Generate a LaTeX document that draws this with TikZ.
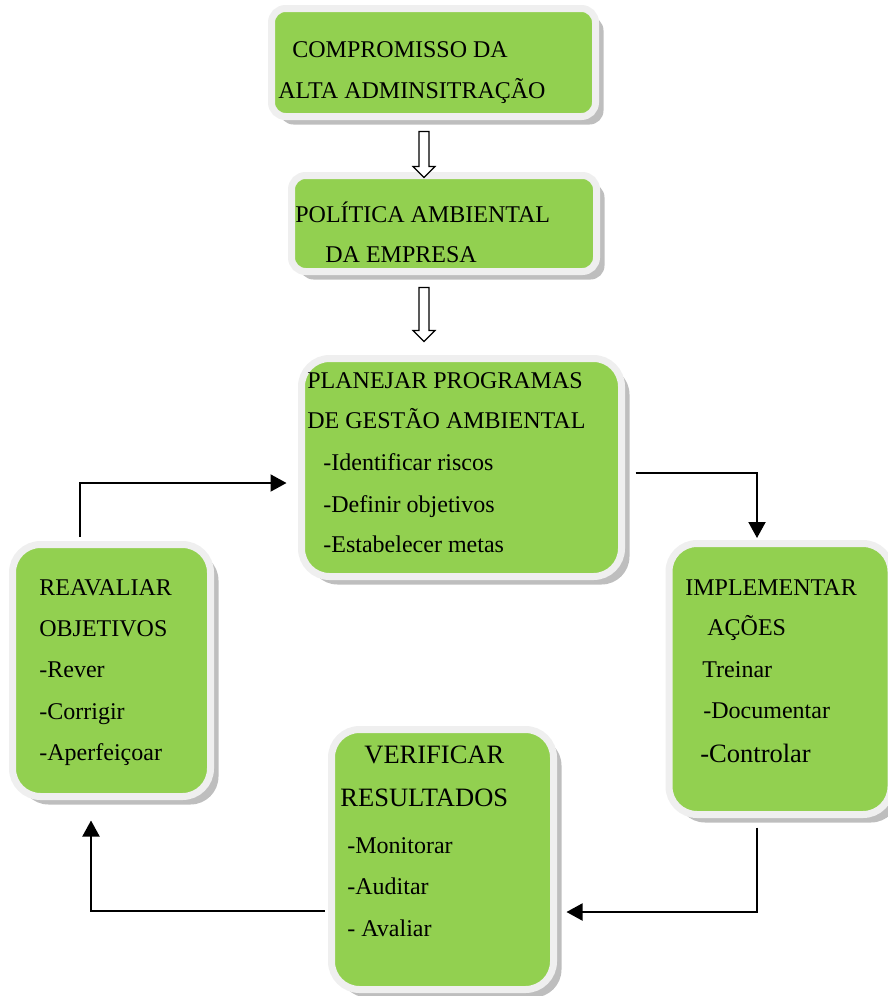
\documentclass[tikz,border=0pt]{standalone}
\usepackage{fontspec}
\setmainfont{Liberation Serif}
\usetikzlibrary{shadows,arrows.meta,calc}

\definecolor{boxgreen}{HTML}{92D050}
\definecolor{boxrim}{HTML}{EFEFEF}
\definecolor{boxshade}{HTML}{BEBEBE}

\tikzset{
  stage/.style={fill=boxgreen, draw=boxrim, line width=3.5pt, rounded corners=14pt, inner sep=0pt,
    drop shadow={shadow xshift=4pt, shadow yshift=-4pt, fill=boxshade, opacity=1}},
  stagesmall/.style={stage, rounded corners=7pt},
  txt/.style={anchor=base west, inner sep=0pt, font=\fontsize{12}{14}\selectfont},
  bigtxt/.style={txt, font=\fontsize{13.25}{16}\selectfont},
  flow/.style={line width=1pt, -{Triangle[length=8pt,width=8.5pt]}},
  hollow/.style={draw=black, fill=white, line width=0.6pt, line join=miter}
}

\begin{document}
\begin{tikzpicture}[x=0.5pt,y=-0.5pt]
 \useasboundingbox (0,0) rectangle (888,996);

% Compromisso
 \node[stagesmall, minimum width=162pt, minimum height=54pt] (comp) at (433.5,62.5) {};
 \node[txt] (comp-1) at (292,57) {COMPROMISSO DA};
 \node[txt] (comp-2) at (278,98) {ALTA ADMINSITRAÇÃO};

% Politica
 \node[stagesmall, minimum width=152.5pt, minimum height=48pt] (pol) at (444,223.5) {};
 \node[txt] (pol-1) at (295,222) {POLÍTICA AMBIENTAL};
 \node[txt] (pol-2) at (325,262) {DA EMPRESA};

% Planejar
 \node[stage, minimum width=160pt, minimum height=109pt] (plan) at (461.5,467.5) {};
 \node[txt] (plan-1) at (307,388) {PLANEJAR PROGRAMAS};
 \node[txt] (plan-2) at (307,428) {DE GESTÃO AMBIENTAL};
 \node[txt] (plan-3) at (323,470) {-Identificar riscos};
 \node[txt] (plan-4) at (323,512) {-Definir objetivos};
 \node[txt] (plan-5) at (323,552) {-Estabelecer metas};

% Implementar
 \node[stage, minimum width=111pt, minimum height=135.5pt] (impl) at (780,679) {};
 \node[txt] (impl-1) at (685,595) {IMPLEMENTAR};
 \node[txt] (impl-2) at (707,635) {AÇÕES};
 \node[txt] (impl-3) at (702,677) {Treinar};
 \node[txt] (impl-4) at (703,718) {-Documentar};
 \node[bigtxt] (impl-5) at (700,762) {-Controlar};

% Verificar
 \node[stage, minimum width=111pt, minimum height=130pt] (verif) at (442.5,859.5) {};
 \node[bigtxt] (verif-1) at (364,763) {VERIFICAR};
 \node[bigtxt] (verif-2) at (340,806) {RESULTADOS};
 \node[txt] (verif-3) at (347,853) {-Monitorar};
 \node[txt] (verif-4) at (347,894) {-Auditar};
 \node[txt] (verif-5) at (347,936) {- Avaliar};

% Reavaliar
 \node[stage, minimum width=99pt, minimum height=126pt] (reav) at (111.5,670.5) {};
 \node[txt] (reav-1) at (39,595) {REAVALIAR};
 \node[txt] (reav-2) at (39,636) {OBJETIVOS};
 \node[txt] (reav-3) at (39,677) {-Rever};
 \node[txt] (reav-4) at (39,719) {-Corrigir};
 \node[txt] (reav-5) at (39,760) {-Aperfeiçoar};

% Block arrows
 \draw[hollow] ($(comp.south)+(-14.5,11.5)$) -- ++(0,35) -- ++(-6,0) -- ++(11,11)
   -- ++(11,-11) -- ++(-6,0) -- ++(0,-35) -- cycle;
 \draw[hollow] ($(pol.south)+(-25,12.5)$) -- ++(0,43) -- ++(-6,0) -- ++(11,11)
   -- ++(11,-11) -- ++(-6,0) -- ++(0,-43) -- cycle;

% Cycle
 \draw[flow] ([xshift=5.25pt,yshift=-2.75pt]plan.east) -| ([xshift=-11.5pt,yshift=1pt]impl.north);
 \draw[flow] ([xshift=-11.5pt,yshift=-4.75pt]impl.south) |- ([xshift=4.75pt,yshift=-26.25pt]verif.east);
 \draw[flow] ([xshift=-1.75pt,yshift=-25.75pt]verif.west) -| ([xshift=-10.25pt,yshift=-10.25pt]reav.south);
 \draw[flow] ([xshift=-15.75pt,yshift=2pt]reav.north) |- ([xshift=-5.75pt,yshift=-7.75pt]plan.west);

\end{tikzpicture}
\end{document}
